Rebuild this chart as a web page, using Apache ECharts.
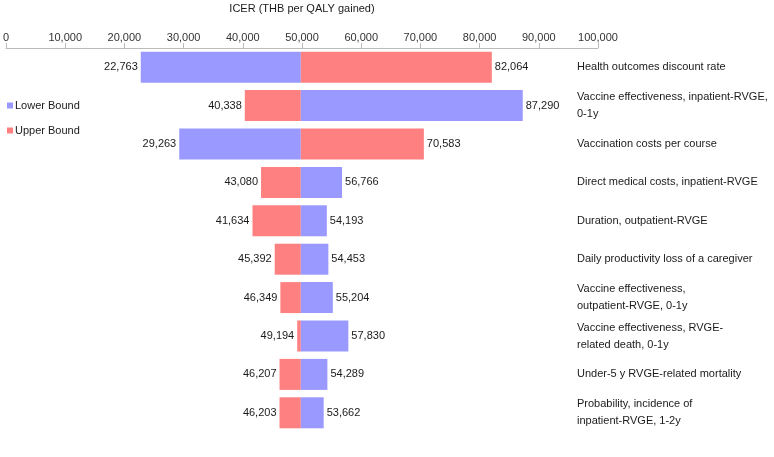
<!DOCTYPE html>
<html>
<head>
<meta charset="utf-8">
<script src="https://cdn.jsdelivr.net/npm/echarts@6/dist/echarts.min.js"></script>
<style>
html,body{margin:0;padding:0;background:#fff;}
#chart{width:774px;height:457px;}
</style>
</head>
<body>
<div id="chart"></div>
<script>
var categories = [
  "Health outcomes discount rate",
  "Vaccine effectiveness, inpatient-RVGE,\n0-1y",
  "Vaccination costs per course",
  "Direct medical costs, inpatient-RVGE",
  "Duration, outpatient-RVGE",
  "Daily productivity loss of a caregiver",
  "Vaccine effectiveness,\noutpatient-RVGE, 0-1y",
  "Vaccine effectiveness, RVGE-\nrelated death, 0-1y",
  "Under-5 y RVGE-related mortality",
  "Probability, incidence of\ninpatient-RVGE, 1-2y"
];
var lowerBound = [22763, 87290, 29263, 56766, 54193, 54453, 55204, 57830, 54289, 53662];
var upperBound = [82064, 40338, 70583, 43080, 41634, 45392, 46349, 49194, 46207, 46203];
var baseIcer = 49800;
var axisTicks = [0, 10000, 20000, 30000, 40000, 50000, 60000, 70000, 80000, 90000, 100000];

var BLUE = '#9999FF', RED = '#FF8080';
var FONT = 'Liberation Sans, Arial, sans-serif';
function fmt(v){ return String(v).replace(/\B(?=(\d{3})+(?!\d))/g, ','); }

var placeholder = [], leftLower = [], leftUpper = [], rightLower = [], rightUpper = [];
for (var i = 0; i < categories.length; i++) {
  var L = lowerBound[i], U = upperBound[i];
  placeholder.push(Math.min(L, U, baseIcer));
  leftLower.push({value: L < baseIcer ? baseIcer - L : 0, actual: L});
  leftUpper.push({value: U < baseIcer ? baseIcer - U : 0, actual: U});
  rightLower.push({value: L > baseIcer ? L - baseIcer : 0, actual: L});
  rightUpper.push({value: U > baseIcer ? U - baseIcer : 0, actual: U});
}
function lbl(pos){
  return {show: true, position: pos, distance: 3, color: '#1a1a1a', fontSize: 11, fontFamily: FONT,
    formatter: function(p){ return p.data.value > 0 ? fmt(p.data.actual) : ''; }};
}
function seg(name, data, color, pos){
  return {name: name, type: 'bar', stack: 'a', data: data, barWidth: 31,
    itemStyle: {color: color}, label: lbl(pos), silent: true, animation: false};
}

var chart = echarts.init(document.getElementById('chart'));
chart.setOption({
  animation: false,
  textStyle: {fontFamily: FONT},
  grid: {left: 6, right: 176, top: 48, bottom: 25, containLabel: false, outerBoundsMode: 'none'},
  legend: {
    data: ['Lower Bound', 'Upper Bound'], orient: 'vertical', left: 2, top: 95,
    icon: 'rect', itemWidth: 6, itemHeight: 6, itemGap: 14,
    textStyle: {fontSize: 11, color: '#1a1a1a', fontFamily: FONT, padding: [0, 0, 0, -3]}
  },
  xAxis: {
    type: 'value', position: 'top', min: 0, max: 100000, interval: 10000,
    name: 'ICER (THB per QALY gained)', nameLocation: 'middle', nameGap: 34,
    nameTextStyle: {fontSize: 11, color: '#1a1a1a', fontFamily: FONT},
    axisLine: {show: true, lineStyle: {color: '#bbb'}},
    axisTick: {show: true, length: 5, lineStyle: {color: '#bbb'}},
    axisLabel: {fontSize: 11, color: '#333', margin: 5, fontFamily: FONT,
      formatter: function(v){ return axisTicks.indexOf(v) >= 0 ? fmt(v) : ''; }},
    splitLine: {show: false}
  },
  yAxis: {
    type: 'category', data: categories, inverse: true, position: 'right',
    axisLine: {show: false}, axisTick: {show: false},
    axisLabel: {align: 'left', margin: -21, fontSize: 11, color: '#1a1a1a', lineHeight: 17, fontFamily: FONT}
  },
  series: [
    {name: 'base', type: 'bar', stack: 'a', data: placeholder, barWidth: 31,
     itemStyle: {color: 'transparent'}, silent: true},
    seg('Lower Bound', leftLower, BLUE, 'left'),
    seg('Upper Bound', leftUpper, RED, 'left'),
    seg('Lower Bound', rightLower, BLUE, 'right'),
    seg('Upper Bound', rightUpper, RED, 'right')
  ]
});
</script>
</body>
</html>
